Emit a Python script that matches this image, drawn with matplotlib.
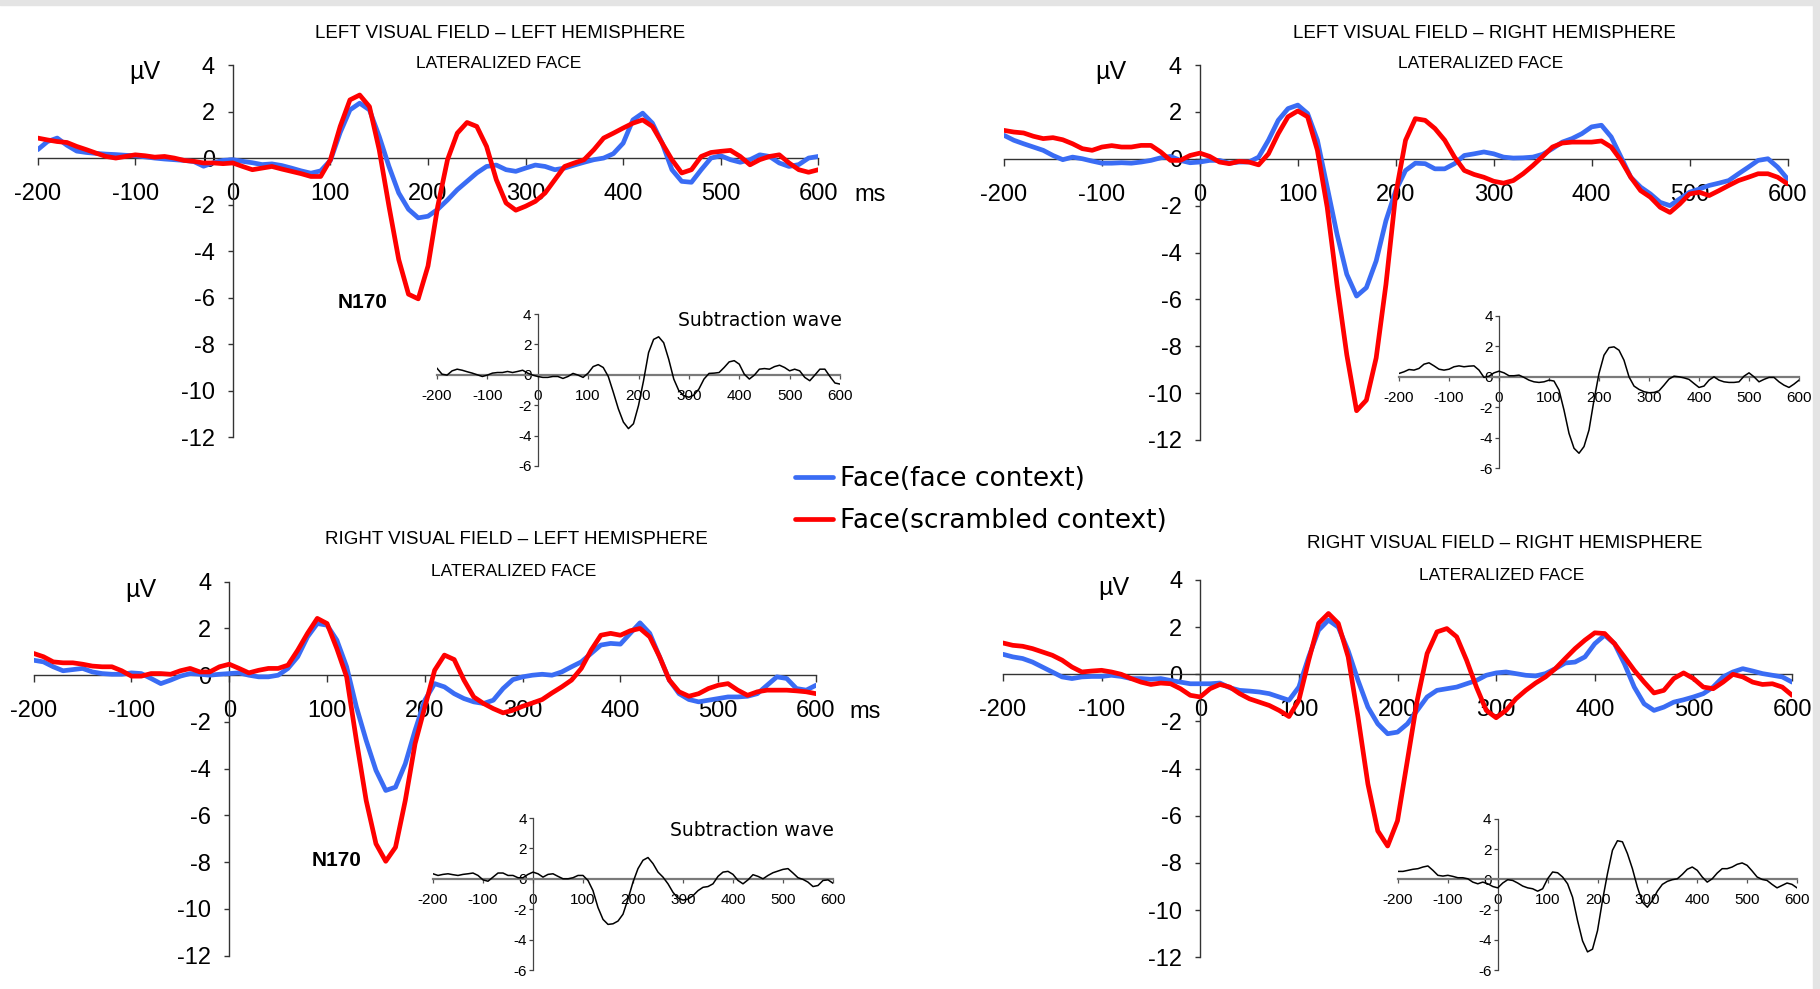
import numpy as np
import matplotlib
matplotlib.use("Agg")
import matplotlib.pyplot as plt
from matplotlib.patches import Rectangle

plt.rcParams['font.family'] = ['Liberation Sans', 'DejaVu Sans']
plt.rcParams['axes.unicode_minus'] = False

W, H = 1820, 989

# time axis, ms (sampled every 10 ms)
time = np.arange(-200, 601, 10)

# ---- grand averages, microvolts ----
lvf_lh_face = [0.36, 0.71, 0.86, 0.55, 0.30, 0.24, 0.20, 0.17, 0.15, 0.12,
               0.10, 0.05, 0.00, -0.04, -0.07, -0.10, -0.15, -0.35, -0.20, -0.10,
               -0.07, -0.14, -0.20, -0.28, -0.25, -0.32, -0.43, -0.55, -0.65, -0.55,
               -0.10, 1.10, 2.07, 2.36, 2.07, 0.93, -0.36, -1.50, -2.20, -2.57,
               -2.50, -2.20, -1.80, -1.36, -1.00, -0.64, -0.36, -0.30, -0.50, -0.57,
               -0.43, -0.30, -0.36, -0.50, -0.43, -0.30, -0.18, -0.07, 0.00, 0.19,
               0.64, 1.64, 1.93, 1.50, 0.64, -0.50, -1.00, -1.04, -0.50, 0.00,
               0.10, -0.07, -0.18, -0.07, 0.14, 0.07, -0.21, -0.36, -0.28, 0.00,
               0.07]
lvf_lh_scr = [0.86, 0.78, 0.71, 0.67, 0.50, 0.36, 0.21, 0.07, 0.00, 0.07,
              0.14, 0.10, 0.04, 0.07, 0.00, -0.10, -0.14, -0.21, -0.21, -0.24,
              -0.21, -0.36, -0.50, -0.43, -0.36, -0.47, -0.57, -0.67, -0.79, -0.79,
              -0.07, 1.36, 2.50, 2.71, 2.21, 0.36, -2.07, -4.36, -5.85, -6.05,
              -4.64, -2.07, -0.07, 1.07, 1.53, 1.36, 0.50, -0.93, -1.93, -2.24,
              -2.07, -1.86, -1.50, -0.93, -0.36, -0.21, -0.07, 0.36, 0.86, 1.07,
              1.29, 1.50, 1.64, 1.36, 0.64, -0.07, -0.64, -0.50, 0.07, 0.24,
              0.29, 0.33, 0.07, -0.29, -0.07, 0.07, 0.14, -0.21, -0.50, -0.61,
              -0.50]

lvf_rh_face = [1.00, 0.79, 0.64, 0.50, 0.36, 0.14, -0.04, 0.07, 0.00, -0.10,
               -0.19, -0.19, -0.17, -0.19, -0.14, -0.07, 0.04, 0.10, -0.07, -0.17,
               -0.14, -0.07, -0.07, -0.19, -0.14, -0.14, 0.07, 0.79, 1.64, 2.14,
               2.29, 1.93, 0.79, -1.21, -3.21, -4.93, -5.86, -5.50, -4.36, -2.64,
               -1.36, -0.50, -0.19, -0.21, -0.43, -0.43, -0.21, 0.14, 0.21, 0.29,
               0.21, 0.07, 0.03, 0.04, 0.07, 0.19, 0.43, 0.71, 0.86, 1.07,
               1.36, 1.43, 0.93, 0.07, -0.79, -1.21, -1.50, -1.86, -2.00, -1.71,
               -1.43, -1.29, -1.14, -1.04, -0.93, -0.64, -0.36, -0.07, 0.00, -0.36,
               -0.86]
lvf_rh_scr = [1.21, 1.14, 1.10, 0.96, 0.86, 0.90, 0.81, 0.64, 0.43, 0.36,
              0.50, 0.56, 0.50, 0.50, 0.57, 0.57, 0.29, -0.07, -0.07, 0.14,
              0.24, 0.10, -0.14, -0.21, -0.11, -0.14, -0.26, 0.21, 1.07, 1.79,
              2.04, 1.79, 0.36, -2.07, -5.36, -8.36, -10.75, -10.30, -8.50, -5.36,
              -1.50, 0.79, 1.71, 1.64, 1.29, 0.79, 0.07, -0.50, -0.67, -0.79,
              -0.96, -1.04, -0.93, -0.64, -0.29, 0.10, 0.50, 0.67, 0.71, 0.71,
              0.71, 0.76, 0.50, -0.07, -0.79, -1.36, -1.64, -2.07, -2.29, -1.93,
              -1.50, -1.43, -1.57, -1.36, -1.14, -0.93, -0.79, -0.64, -0.64, -0.79,
              -1.07]

rvf_lh_face = [0.64, 0.57, 0.36, 0.19, 0.24, 0.29, 0.14, 0.07, 0.04, 0.04,
               0.10, 0.07, -0.14, -0.36, -0.21, -0.04, 0.07, 0.04, 0.00, 0.04,
               0.07, 0.10, 0.00, -0.07, -0.07, 0.00, 0.29, 0.79, 1.64, 2.21,
               2.14, 1.50, 0.36, -1.36, -2.79, -4.07, -4.93, -4.79, -3.79, -2.36,
               -1.07, -0.36, -0.50, -0.79, -1.00, -1.14, -1.21, -1.07, -0.57, -0.19,
               -0.07, 0.00, 0.04, 0.00, 0.14, 0.36, 0.57, 0.93, 1.29, 1.36,
               1.33, 1.79, 2.24, 1.79, 0.79, -0.21, -0.79, -1.04, -1.14, -1.07,
               -1.00, -0.93, -0.93, -0.90, -0.79, -0.43, -0.07, -0.14, -0.57, -0.64,
               -0.43]
rvf_lh_scr = [0.93, 0.79, 0.57, 0.53, 0.53, 0.47, 0.39, 0.36, 0.36, 0.19,
              -0.04, -0.04, 0.07, 0.07, 0.04, 0.19, 0.29, 0.14, 0.14, 0.36,
              0.47, 0.29, 0.10, 0.21, 0.29, 0.29, 0.43, 1.07, 1.79, 2.43,
              2.21, 1.14, -0.07, -2.79, -5.36, -7.21, -7.96, -7.36, -5.36, -2.93,
              -1.36, 0.21, 0.86, 0.67, -0.21, -0.93, -1.21, -1.43, -1.61, -1.50,
              -1.33, -1.19, -1.04, -0.76, -0.50, -0.21, 0.29, 1.07, 1.71, 1.79,
              1.71, 1.90, 2.00, 1.64, 0.79, -0.21, -0.71, -0.90, -0.79, -0.57,
              -0.43, -0.36, -0.64, -0.86, -0.71, -0.64, -0.64, -0.64, -0.67, -0.71,
              -0.79]

rvf_rh_face = [0.85, 0.74, 0.67, 0.52, 0.31, 0.10, -0.11, -0.18, -0.11, -0.09,
               -0.09, -0.04, -0.09, -0.18, -0.18, -0.21, -0.18, -0.26, -0.33, -0.40,
               -0.40, -0.40, -0.37, -0.57, -0.68, -0.71, -0.75, -0.82, -0.96, -1.10,
               -0.54, 0.74, 1.87, 2.30, 2.00, 1.00, -0.26, -1.39, -2.10, -2.52,
               -2.45, -2.10, -1.53, -0.96, -0.68, -0.61, -0.54, -0.40, -0.26, -0.04,
               0.06, 0.10, 0.03, -0.04, -0.07, 0.03, 0.24, 0.48, 0.52, 0.74,
               1.30, 1.66, 1.30, 0.45, -0.54, -1.25, -1.53, -1.39, -1.18, -1.08,
               -0.96, -0.82, -0.54, -0.11, 0.10, 0.24, 0.14, 0.03, -0.04, -0.11,
               -0.33]
rvf_rh_scr = [1.33, 1.23, 1.19, 1.09, 0.95, 0.81, 0.60, 0.31, 0.10, 0.14,
              0.17, 0.10, 0.00, -0.18, -0.33, -0.43, -0.37, -0.40, -0.61, -0.89,
              -0.96, -0.61, -0.43, -0.54, -0.82, -1.04, -1.18, -1.32, -1.53, -1.79,
              -1.10, 0.60, 2.16, 2.58, 2.16, 0.74, -1.82, -4.65, -6.64, -7.28,
              -6.21, -3.66, -1.10, 0.88, 1.80, 1.94, 1.59, 0.60, -0.54, -1.53,
              -1.84, -1.53, -1.04, -0.68, -0.37, -0.11, 0.24, 0.67, 1.09, 1.45,
              1.76, 1.73, 1.30, 0.74, 0.17, -0.33, -0.79, -0.68, -0.18, 0.06,
              -0.18, -0.54, -0.61, -0.33, 0.00, -0.11, -0.33, -0.43, -0.40, -0.54,
              -0.89]

# ---- subtraction waves (scrambled context minus face context) ----
lvf_lh_diff = [0.43, 0.04, -0.02, 0.26, 0.37, 0.30, 0.20, 0.11, 0.00, -0.11,
               -0.02, 0.11, 0.15, 0.15, 0.22, 0.15, 0.22, 0.30, 0.11, -0.02,
               -0.11, -0.17, -0.17, -0.11, -0.11, -0.24, -0.11, 0.09, -0.02, -0.17,
               0.11, 0.54, 0.67, 0.48, -0.11, -1.15, -2.24, -3.11, -3.54, -3.22,
               -2.02, -0.39, 1.46, 2.33, 2.50, 2.11, 1.02, -0.28, -1.04, -1.37,
               -1.48, -1.33, -0.93, -0.28, 0.09, 0.11, 0.15, 0.48, 0.85, 0.93,
               0.70, 0.04, -0.28, -0.02, 0.37, 0.41, 0.37, 0.54, 0.63, 0.48,
               0.26, 0.37, 0.26, -0.17, -0.39, -0.02, 0.37, 0.37, -0.11, -0.54,
               -0.61]
lvf_rh_diff = [0.22, 0.33, 0.48, 0.44, 0.55, 0.83, 0.92, 0.72, 0.50, 0.44,
               0.50, 0.66, 0.72, 0.66, 0.70, 0.72, 0.44, -0.04, 0.04, 0.26,
               0.37, 0.26, 0.07, 0.07, 0.11, -0.04, -0.22, -0.33, -0.37, -0.33,
               -0.22, -0.28, -0.87, -2.19, -3.72, -4.70, -5.03, -4.59, -3.50, -1.53,
               0.22, 1.42, 1.92, 1.97, 1.75, 1.09, 0.00, -0.61, -0.83, -0.98,
               -1.05, -1.03, -0.92, -0.55, -0.15, 0.04, 0.00, -0.07, -0.17, -0.44,
               -0.70, -0.61, -0.22, 0.00, -0.22, -0.33, -0.37, -0.37, -0.33, 0.04,
               0.26, 0.00, -0.33, -0.17, -0.04, -0.04, -0.33, -0.55, -0.70, -0.48,
               -0.22]
rvf_lh_diff = [0.33, 0.22, 0.29, 0.33, 0.27, 0.22, 0.29, 0.33, 0.38, 0.22,
               -0.07, -0.16, 0.11, 0.38, 0.38, 0.22, 0.22, 0.07, 0.07, 0.29,
               0.44, 0.33, 0.11, 0.29, 0.33, 0.16, 0.00, 0.00, 0.07, 0.22,
               0.22, -0.11, -0.78, -1.89, -2.67, -3.00, -2.96, -2.78, -2.33, -1.33,
               -0.22, 0.67, 1.22, 1.40, 1.00, 0.44, 0.11, -0.33, -0.89, -1.27,
               -1.40, -1.33, -1.11, -0.78, -0.56, -0.51, -0.33, 0.16, 0.44, 0.49,
               0.29, -0.11, -0.33, -0.07, 0.27, 0.16, 0.00, 0.22, 0.40, 0.51,
               0.62, 0.67, 0.38, 0.07, -0.04, -0.22, -0.51, -0.44, -0.11, -0.07,
               -0.29]
rvf_rh_diff = [0.53, 0.53, 0.60, 0.67, 0.71, 0.82, 0.89, 0.60, 0.27, 0.22,
               0.27, 0.20, 0.11, 0.11, 0.04, -0.18, -0.29, -0.18, -0.29, -0.47,
               -0.56, -0.24, -0.02, -0.07, -0.24, -0.44, -0.56, -0.62, -0.78, -0.62,
               0.04, 0.49, 0.44, 0.16, -0.29, -1.18, -2.73, -4.07, -4.80, -4.62,
               -3.40, -1.40, 0.38, 1.93, 2.56, 2.49, 1.71, 0.71, -0.51, -1.51,
               -1.84, -1.40, -0.78, -0.33, -0.13, -0.02, 0.04, 0.33, 0.67, 0.82,
               0.60, 0.16, -0.18, 0.04, 0.42, 0.71, 0.71, 0.82, 1.00, 1.09,
               0.93, 0.56, 0.16, 0.00, -0.07, -0.33, -0.56, -0.40, -0.24, -0.33,
               -0.56]

titles = ["LEFT VISUAL FIELD \u2013 LEFT HEMISPHERE",
          "LEFT VISUAL FIELD \u2013 RIGHT HEMISPHERE",
          "RIGHT VISUAL FIELD \u2013 LEFT HEMISPHERE",
          "RIGHT VISUAL FIELD \u2013 RIGHT HEMISPHERE"]
subtitle = "LATERALIZED FACE"
legend_labels = ["Face(face context)", "Face(scrambled context)"]

BLUE = "#3a6cf4"
RED = "#ff0000"

# pixel boxes: (left, right, top, bottom)
main_boxes = [(37.7, 818.3, 65, 437.3), (1004, 1787.5, 65, 440),
              (33.7, 816, 581.7, 955.7), (1002.9, 1792.1, 580, 957.3)]
inset_boxes = [(437, 840, 314, 466), (1399, 1799, 316, 468),
               (433, 833, 818, 970), (1398, 1797, 819, 970)]
title_pos = [(500, 33, 499, 63), (1484, 33, 1481, 63),
             (516, 540, 514, 572), (1505, 543, 1502, 575)]
uv_pos = [(145, 72), (1111, 72), (141, 590), (1114, 588)]

panels = [(lvf_lh_face, lvf_lh_scr, lvf_lh_diff),
          (lvf_rh_face, lvf_rh_scr, lvf_rh_diff),
          (rvf_lh_face, rvf_lh_scr, rvf_lh_diff),
          (rvf_rh_face, rvf_rh_scr, rvf_rh_diff)]


def box_axes(fig, box):
    l, r, t, b = box
    return fig.add_axes([l / W, 1 - b / H, (r - l) / W, (b - t) / H])


def cross_axes(ax, color, lw):
    for s in ["top", "right"]:
        ax.spines[s].set_visible(False)
    for s in ["left", "bottom"]:
        ax.spines[s].set_position(("data", 0))
        ax.spines[s].set_color(color)
        ax.spines[s].set_linewidth(lw)
    ax.patch.set_alpha(0)


fig = plt.figure(figsize=(W / 100, H / 100), dpi=100)

# grey frame strips along the top and right edges
fig.patches.append(Rectangle((0, 1 - 5 / H), 1, 5 / H, transform=fig.transFigure,
                             color="#e4e4e4", zorder=0))
fig.patches.append(Rectangle((1813 / W, 0), 7 / W, 1, transform=fig.transFigure,
                             color="#e4e4e4", zorder=0))

line_kw = dict(lw=3.4, solid_capstyle="round", solid_joinstyle="round")

handles = None
for i, (face, scr, diff) in enumerate(panels):
    ax = box_axes(fig, main_boxes[i])
    hb, = ax.plot(time, face, color=BLUE, zorder=3, **line_kw)
    hr, = ax.plot(time, scr, color=RED, zorder=4, **line_kw)
    if handles is None:
        handles = [hb, hr]
    ax.set_xlim(-200, 600)
    ax.set_ylim(-12, 4)
    cross_axes(ax, "#333333", 1.0)
    ax.set_xticks(range(-200, 601, 100))
    ax.set_yticks(range(-12, 5, 2))
    ax.tick_params(axis="x", direction="out", length=5, width=1, color="#333333",
                   pad=13, labelsize=17)
    ax.tick_params(axis="y", direction="out", length=3.5, width=1, color="#333333",
                   pad=9.5, labelsize=17)

    x1, y1, x2, y2 = title_pos[i]
    fig.text(x1 / W, 1 - y1 / H, titles[i], ha="center", va="center", fontsize=13.5)
    fig.text(x2 / W, 1 - y2 / H, subtitle, ha="center", va="center", fontsize=12.5)
    ux, uy = uv_pos[i]
    fig.text(ux / W, 1 - uy / H, "\u00b5V", ha="center", va="center", fontsize=18)

    # subtraction wave inset
    ins = box_axes(fig, inset_boxes[i])
    ins.plot(time, diff, color="black", lw=1.1, solid_joinstyle="round", zorder=3)
    ins.set_xlim(-200, 600)
    ins.set_ylim(-6, 4)
    cross_axes(ins, "#444444", 0.9)
    ins.spines["bottom"].set_color("#7a7a7a")
    ins.spines["bottom"].set_linewidth(1.6)
    ins.set_xticks(range(-200, 601, 100))
    ins.set_yticks(range(-6, 5, 2))
    ins.tick_params(axis="x", direction="out", length=3, width=0.9, color="#555555",
                    pad=7, labelsize=11)
    ins.tick_params(axis="y", direction="out", length=3, width=0.9, color="#444444",
                    pad=1.5, labelsize=11)

# "ms" unit labels on the left column
fig.text(870 / W, 1 - 195 / H, "ms", ha="center", va="center", fontsize=17)
fig.text(865 / W, 1 - 712 / H, "ms", ha="center", va="center", fontsize=17)

# N170 component labels
fig.text(363 / W, 1 - 302 / H, "N170", ha="center", va="center", fontsize=15,
         fontweight="bold")
fig.text(337 / W, 1 - 860 / H, "N170", ha="center", va="center", fontsize=15,
         fontweight="bold")

fig.text(760 / W, 1 - 320 / H, "Subtraction wave", ha="center", va="center",
         fontsize=13.5, family="DejaVu Sans")
fig.text(752 / W, 1 - 830 / H, "Subtraction wave", ha="center", va="center",
         fontsize=13.5, family="DejaVu Sans")

fig.legend(handles, legend_labels, loc="upper left",
           bbox_to_anchor=(795 / W, 1 - 466 / H), frameon=False,
           borderpad=0, borderaxespad=0, handlelength=1.45, handletextpad=0.25,
           labelspacing=0.62, prop={"family": "DejaVu Sans", "size": 19})

fig.savefig("out.png", dpi=100, facecolor="white")
